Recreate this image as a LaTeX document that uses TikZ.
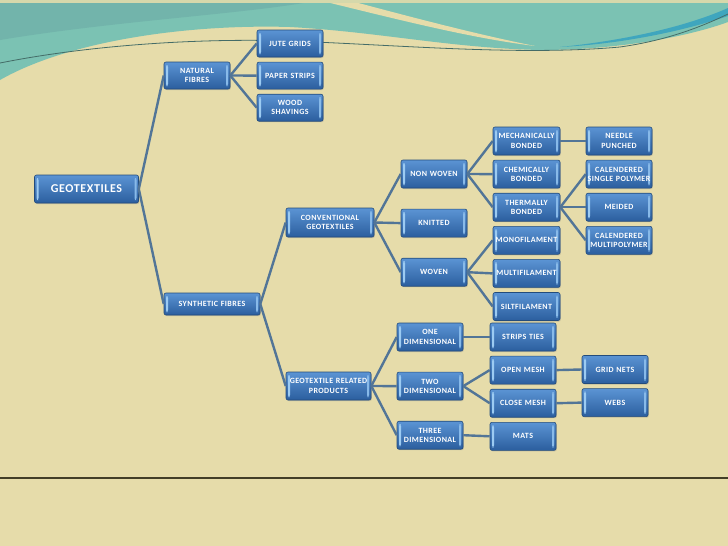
\documentclass[tikz,border=0pt]{standalone}
\usepackage{fontspec}
\setmainfont{Carlito}
\newfontfamily\boxfont[LetterSpace=5]{Carlito}
\usetikzlibrary{positioning,shadows}

\definecolor{sand}{HTML}{E6DCAA}
\definecolor{sea}{HTML}{7BC2B3}
\definecolor{seadark}{HTML}{72B4AB}
\definecolor{seadeep}{HTML}{3FA6BE}
\definecolor{boxtop}{HTML}{5B94D4}
\definecolor{boxbottom}{HTML}{2B5E9E}
\definecolor{boxline}{HTML}{234C7C}
\definecolor{bevel}{HTML}{9CCBF2}
\definecolor{linkblue}{HTML}{527597}
\definecolor{rulecol}{HTML}{433E27}

\tikzset{
    box/.style={rectangle, rounded corners=2pt, draw=boxline, line width=0.6pt,
        top color=boxtop, bottom color=boxbottom, text=white,
        font=\boxfont\fontsize{8}{9.3}\selectfont\bfseries, align=center,
        inner sep=2pt, text width=62pt, minimum height=28pt,
        drop shadow={shadow xshift=0.8pt, shadow yshift=-1pt, opacity=0.35},
        path picture={
            \fill[bevel] ([xshift=2pt,yshift=3pt]path picture bounding box.south west) rectangle ([xshift=4pt,yshift=-3pt]path picture bounding box.north west);
            \fill[bevel!70!boxtop] ([xshift=-4pt,yshift=3pt]path picture bounding box.south east) rectangle ([xshift=-2pt,yshift=-3pt]path picture bounding box.north east);
        }},
    link/.style={draw=linkblue, line width=2.4pt}
}

\begin{document}
\begin{tikzpicture}[x=1pt, y=1pt, node distance=4.5pt]
        % background
        \useasboundingbox (0,0) rectangle (728,-546);
        \fill[sand] (0,0) rectangle (728,-546);
        \fill[sea] (0,0) -- (728,0) -- (728,-22) .. controls (690,-36) and (620,-50) .. (540,-50)
            .. controls (450,-48) and (380,-32) .. (290,-27) .. controls (190,-24) and (70,-40) .. (0,-80) -- cycle;
        \fill[seadark] (0,0) -- (320,0) .. controls (250,-14) and (120,-20) .. (0,-40) -- cycle;
        \fill[sand] (318,0) .. controls (400,-20) and (470,-38) .. (535,-46)
            .. controls (470,-33) and (400,-14) .. (347,0) -- cycle;
        \fill[seadeep] (560,-47) .. controls (630,-40) and (690,-25) .. (728,-8) -- (728,-16)
            .. controls (680,-32) and (620,-44) .. (560,-47) -- cycle;
        \draw[seadark!60!black, line width=0.8pt] (0,-63) .. controls (90,-45) and (200,-38) .. (290,-41)
            .. controls (400,-45) and (520,-56) .. (620,-47) .. controls (670,-40) and (705,-25) .. (728,-14);
        \fill[sand!85!sea] (0,0) rectangle (728,-2.5);
        \draw[rulecol, line width=1.4pt] (0,-478) -- (728,-478);

        % root and first level
        \node[box, font=\boxfont\fontsize{12}{14}\selectfont\bfseries, text width=100pt] (geo) at (86.5,-189) {GEOTEXTILES};
        \node[box, minimum height=27pt] (nat) at (197,-75.5) {NATURAL\\FIBRES};
        \node[box, text width=92pt, minimum height=22pt] (syn) at (212,-304) {SYNTHETIC FIBRES};

        % natural fibres
        \node[box, minimum height=27pt] (jute) at (290,-43.5) {JUTE GRIDS};
        \node[box, minimum height=27pt, below=of jute] (paper) {PAPER STRIPS};
        \node[box, minimum height=27pt, below=of paper] (wood) {WOOD\\SHAVINGS};

        % synthetic fibres
        \node[box, text width=84pt, minimum height=29pt] (conv) at (330,-222.5) {CONVENTIONAL\\GEOTEXTILES};
        \node[box, text width=81pt] (rel) at (328.5,-386) {GEOTEXTILE RELATED\\PRODUCTS};

        \node[box] (nonwoven) at (434,-174) {NON WOVEN};
        \node[box, below=20.5pt of nonwoven] (knitted) {KNITTED};
        \node[box, below=20.5pt of knitted] (woven) {WOVEN};

        \node[box, text width=63pt] (mech) at (526.5,-141) {MECHANICALLY\\BONDED};
        \node[box, text width=63pt, below=of mech] (chem) {CHEMICALLY\\BONDED};
        \node[box, text width=63pt, below=of chem] (therm) {THERMALLY\\BONDED};
        \node[box, text width=63pt, below=of therm] (mono) {MONOFILAMENT};
        \node[box, text width=63pt, below=of mono] (multi) {MULTIFILAMENT};
        \node[box, text width=63pt, below=of multi] (silt) {SILTFILAMENT};

        \node[box] (needle) at (619,-141) {NEEDLE\\PUNCHED};
        \node[box, below=of needle] (calsingle) {CALENDERED\\\makebox[62pt][c]{SINGLE POLYMER}};
        \node[box, below=of calsingle] (meided) {MEIDED};
        \node[box, below=of meided] (calmulti) {CALENDERED\\\makebox[62pt][c]{MULTIPOLYMER}};

        \node[box] (one) at (430,-337) {ONE\\DIMENSIONAL};
        \node[box, below=20.5pt of one] (two) {TWO\\DIMENSIONAL};
        \node[box, below=20.5pt of two] (three) {THREE\\DIMENSIONAL};

        \node[box] (strips) at (523,-337) {STRIPS TIES};
        \node[box, below=of strips] (open) {OPEN MESH};
        \node[box, below=of open] (close) {CLOSE MESH};
        \node[box, below=of close] (mats) {MATS};

        \node[box] (grid) at (615,-369.5) {GRID NETS};
        \node[box, below=of grid] (webs) {WEBS};

        % connectors
        \draw[link] (geo.east) -- (nat.west);
        \draw[link] (geo.east) -- (syn.west);

        \draw[link] (nat.east) -- (jute.west);
        \draw[link] (nat.east) -- (paper.west);
        \draw[link] (nat.east) -- (wood.west);

        \draw[link] (syn.east) -- (conv.west);
        \draw[link] (syn.east) -- (rel.west);

        \draw[link] (conv.east) -- (nonwoven.west);
        \draw[link] (conv.east) -- (knitted.west);
        \draw[link] (conv.east) -- (woven.west);

        \draw[link] (nonwoven.east) -- (mech.west);
        \draw[link] (nonwoven.east) -- (chem.west);
        \draw[link] (nonwoven.east) -- (therm.west);

        \draw[link] (woven.east) -- (mono.west);
        \draw[link] (woven.east) -- (multi.west);
        \draw[link] (woven.east) -- (silt.west);

        \draw[link] (mech.east) -- (needle.west);
        \draw[link] (therm.east) -- (calsingle.west);
        \draw[link] (therm.east) -- (meided.west);
        \draw[link] (therm.east) -- (calmulti.west);

        \draw[link] (rel.east) -- (one.west);
        \draw[link] (rel.east) -- (two.west);
        \draw[link] (rel.east) -- (three.west);

        \draw[link] (one.east) -- (strips.west);
        \draw[link] (two.east) -- (open.west);
        \draw[link] (two.east) -- (close.west);
        \draw[link] (three.east) -- (mats.west);

        \draw[link] (open.east) -- (grid.west);
        \draw[link] (close.east) -- (webs.west);
    \end{tikzpicture}
\end{document}
